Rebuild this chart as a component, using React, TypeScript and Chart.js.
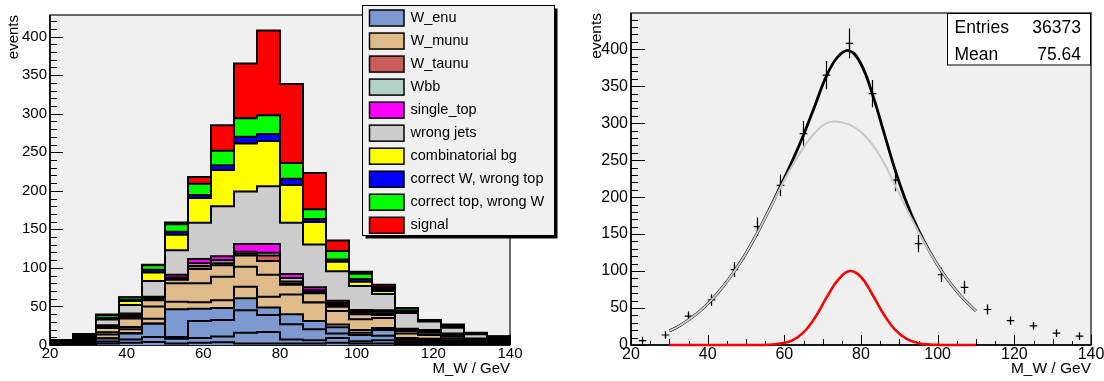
import React, { useEffect, useRef } from "react";
import { Chart, registerables } from "chart.js";

Chart.register(...registerables);

const FONT = "'Liberation Sans', Arial, Helvetica, sans-serif";
const PLOT_BG = "#f0f0f0";

// ---------- left panel: stacked M_W histogram (bin edges, 6 GeV bins) ----------
const binEdges = [20, 26, 32, 38, 44, 50, 56, 62, 68, 74, 80, 86, 92, 98, 104, 110, 116, 122, 128, 134, 140];

// W_enu sub-samples (bottom of stack)
const wEnuA = [0.5, 1, 2, 3, 4, 2, 3, 3.5, 2, 2, 2, 2, 3, 2, 2, 1, 1, 1, 0.8, 0.5];
const wEnuB = [0.5, 1.5, 2.5, 4, 6.5, 6, 6, 7.5, 14, 15, 5, 4, 6, 3, 4, 2, 2, 1, 0.7, 0.7];
const wEnuC = [0.5, 1, 4, 8, 17, 2.5, 22, 21.5, 29, 22, 20, 14.5, 6, 8, 6, 2, 2, 1, 1, 0.8];
const wEnuD = [0.5, 1, 0.3, 0.5, 0.5, 36, 16, 15.5, 15.5, 9.5, 13, 10.5, 8, 3, 7.5, 2, 1.5, 1.5, 1, 0.5];
// W_munu sub-samples
const wMunuA = [0.5, 1.5, 4.7, 5, 6, 9.5, 8.5, 10, 15, 14, 25.5, 24, 3.5, 3.5, 2.5, 2, 1.5, 1.5, 1, 1];
const wMunuB = [0.5, 1.5, 3, 3, 16, 24, 24.5, 30.5, 26, 28.5, 12.5, 0, 17.5, 14, 13, 6, 5, 2.5, 1, 1];
const wMunuC = [0.5, 1.5, 5.5, 11, 8, 4.5, 18.5, 15, 14.5, 18, 1.5, 12, 5.5, 6.5, 4, 3, 3, 2.5, 1, 1];
const wTaunu = [0.5, 1, 1.5, 2, 1.5, 2, 4, 2.5, 2.5, 7, 3, 2, 2.5, 2, 2, 1, 1, 1.5, 0.5, 0.7];
const wbb = [0.5, 1, 1, 2, 1.5, 1, 3.5, 4, 2.5, 3.5, 4.5, 2, 2.5, 1.5, 2, 1, 1, 1, 0.5, 0.8];
const singleTop = [0.5, 1, 1, 2.5, 1.5, 3.5, 5.5, 5, 10, 11.5, 5, 4, 3, 2, 2, 1, 1.5, 1.5, 1, 1];
const wrongJets = [0.8, 1.3, 7.5, 11, 20.5, 32, 47, 65, 68, 75, 66.5, 55.5, 38, 31, 21, 20.5, 11, 7.5, 5.5, 1.5];
const combinatorialBg = [0.2, 0.3, 0.5, 5, 11, 20, 32, 47, 62.5, 58.5, 49, 29, 12.5, 5.5, 4, 2, 0.5, 0.5, 0.5, 0.5];
const correctWWrongTop = [0.2, 0.3, 1.5, 1.5, 3.5, 4, 4, 6, 8.5, 9, 8, 4, 3, 3.5, 2.5, 1, 0.5, 0.5, 0.5, 0.5];
const correctTopWrongW = [0.2, 0.3, 3.5, 3, 6, 9.5, 14.5, 19, 24, 24.5, 20.5, 12.5, 11, 7, 2.5, 3, 0.5, 2.5, 0.5, 0.5];
const signal = [0.1, 0.2, 1, 0.5, 0.5, 2.5, 9, 33, 71, 110, 102.5, 47, 13.5, 2.5, 3, 0.5, 0.5, 0.5, 0.5, 0.5];

const C_WENU = "#7d99d1";
const C_WMUNU = "#debb88";
const C_WTAUNU = "#cd5c5c";
const C_WBB = "#b3d1c6";
const C_STOP = "#ff00ff";
const C_WJETS = "#cccccc";
const C_COMB = "#ffff00";
const C_CORRW = "#0000ff";
const C_CORRT = "#00ff00";
const C_SIG = "#ff0000";

const legendLabels = [
  "W_enu", "W_munu", "W_taunu", "Wbb", "single_top", "wrong jets",
  "combinatorial bg", "correct W, wrong top", "correct top, wrong W", "signal",
];
const legendColors = [C_WENU, C_WMUNU, C_WTAUNU, C_WBB, C_STOP, C_WJETS, C_COMB, C_CORRW, C_CORRT, C_SIG];

// tick labels
const xTickValues = [20, 40, 60, 80, 100, 120, 140];
const yTickValues = [0, 50, 100, 150, 200, 250, 300, 350, 400];

// ---------- right panel: data points and fit curves ----------
const pointX = [23, 29, 35, 41, 47, 53, 59, 65, 71, 77, 83, 89, 95, 101, 107, 113, 119, 125, 131, 137];
const pointY = [6, 13.5, 39, 61, 102, 160, 216, 286, 365, 408, 340, 223, 137, 95, 78, 48, 33, 26, 16, 12];
const pointErr = [2.4, 3.7, 6.2, 7.8, 10.1, 12.6, 14.7, 16.9, 19.1, 20.2, 18.4, 14.9, 11.7, 9.7, 8.8, 6.9, 5.7, 5.1, 4.0, 3.5];

const fitX = [30, 32, 35, 38, 41, 44, 47, 50, 53, 56, 59, 62, 65, 68, 71, 74, 77, 80, 83, 86, 89, 92, 95, 98, 101, 104, 107, 110];
const bgFit = [19, 24, 34, 46, 61, 79, 100, 124, 152, 182, 213, 242, 267, 287, 300, 302, 298, 288, 271, 246, 215, 183, 153, 125, 100, 79, 61, 46];
const sigFit = [0, 0, 0, 0, 0, 0, 0, 0, 0, 0.3, 2, 6, 17, 37, 64, 88, 100, 92, 68, 41, 20, 8, 2.5, 0.6, 0.1, 0, 0, 0];
const totalFit = [19, 24, 34, 46, 61, 79, 100, 124, 152, 182.3, 215, 248, 284, 324, 364, 390, 398, 380, 339, 287, 235, 191, 155.5, 125.6, 100.1, 79, 61, 46];

const statsLabels = ["Entries", "Mean"];
const statsValues = ["36373", "75.64"];

type TickCfg = { yMajor: number; yMinor: number; xMajor: number; xMid: number; xMinor: number };

function drawRootFrame(chart: any, cfg: TickCfg) {
  const { ctx, chartArea: a } = chart;
  const xs = chart.scales.x;
  const ys = chart.scales.y;
  ctx.save();
  ctx.fillStyle = PLOT_BG;
  ctx.fillRect(a.left, a.top, a.right - a.left, a.bottom - a.top);
  ctx.strokeStyle = "#3a3a3a";
  ctx.lineWidth = 1.5;
  ctx.strokeRect(a.left, a.top, a.right - a.left, a.bottom - a.top);
  ctx.strokeStyle = "#000";
  ctx.lineWidth = 1;
  ctx.beginPath();
  for (let v = ys.min; v <= ys.max; v += 10) {
    const py = Math.round(ys.getPixelForValue(v)) + 0.5;
    const len = v % 50 === 0 ? cfg.yMajor : cfg.yMinor;
    ctx.moveTo(a.left, py);
    ctx.lineTo(a.left + len, py);
  }
  for (let v = xs.min; v <= xs.max; v += 5) {
    const px = Math.round(xs.getPixelForValue(v)) + 0.5;
    const len = v % 20 === 0 ? cfg.xMajor : v % 10 === 0 ? cfg.xMid : cfg.xMinor;
    ctx.moveTo(px, a.bottom);
    ctx.lineTo(px, a.bottom - len);
  }
  ctx.stroke();
  ctx.lineWidth = 1.5;
  ctx.beginPath();
  ctx.moveTo(a.left, a.top);
  ctx.lineTo(a.left, a.bottom);
  ctx.lineTo(a.right, a.bottom);
  ctx.stroke();
  ctx.restore();
}

function axisOptions(opts: {
  ymax: number; yWidth: number; tickSize: number; titleSize: number; yTitlePad: number;
}) {
  const tickFont = { family: FONT, size: opts.tickSize };
  const titleFont = { family: FONT, size: opts.titleSize };
  return {
    x: {
      type: "linear",
      min: 20,
      max: 140,
      ticks: { font: tickFont, color: "#000", padding: 0, maxRotation: 0, autoSkip: false },
      afterBuildTicks: (s: any) => { s.ticks = xTickValues.map((value) => ({ value })); },
      grid: { display: false, drawTicks: false },
      border: { display: false },
      title: { display: true, text: "M_W / GeV", align: "end", color: "#000", font: titleFont, padding: { top: 0, bottom: 3 } },
      afterFit: (s: any) => { s.height = 36; s.paddingLeft = 0; s.paddingRight = 0; },
    },
    y: {
      type: "linear",
      min: 0,
      max: opts.ymax,
      ticks: { font: tickFont, color: "#000", padding: 3, autoSkip: false },
      afterBuildTicks: (s: any) => { s.ticks = yTickValues.map((value) => ({ value })); },
      grid: { display: false, drawTicks: false },
      border: { display: false },
      title: { display: true, text: "events", align: "end", color: "#000", font: titleFont, padding: { top: opts.yTitlePad, bottom: 0 } },
      afterFit: (s: any) => { s.width = opts.yWidth; s.paddingTop = 0; s.paddingBottom = 0; },
    },
  };
}

function leftConfig(): any {
  const stackOrder = [
    { v: wEnuA, c: C_WENU }, { v: wEnuB, c: C_WENU }, { v: wEnuC, c: C_WENU }, { v: wEnuD, c: C_WENU },
    { v: wMunuA, c: C_WMUNU }, { v: wMunuB, c: C_WMUNU }, { v: wMunuC, c: C_WMUNU },
    { v: wTaunu, c: C_WTAUNU }, { v: wbb, c: C_WBB }, { v: singleTop, c: C_STOP },
    { v: wrongJets, c: C_WJETS }, { v: combinatorialBg, c: C_COMB }, { v: correctWWrongTop, c: C_CORRW },
    { v: correctTopWrongW, c: C_CORRT }, { v: signal, c: C_SIG },
  ];
  let running = new Array(binEdges.length - 1).fill(0);
  const datasets = stackOrder.map((layer) => {
    running = running.map((r, i) => r + layer.v[i]);
    const cum = running.slice();
    const pts = cum.map((y, i) => ({ x: binEdges[i], y }));
    pts.push({ x: binEdges[binEdges.length - 1], y: cum[cum.length - 1] });
    return {
      data: pts,
      stepped: "before",
      fill: "origin",
      backgroundColor: layer.c,
      borderColor: "#000",
      borderWidth: 2,
      borderJoinStyle: "miter",
      pointRadius: 0,
      tension: 0,
    };
  });

  const framePlugin = {
    id: "rootFrameLeft",
    beforeDatasetsDraw(chart: any) {
      drawRootFrame(chart, { yMajor: 13, yMinor: 7, xMajor: 10, xMid: 6, xMinor: 4 });
    },
  };
  const legendPlugin = {
    id: "rootLegend",
    afterDraw(chart: any) {
      const ctx = chart.ctx;
      const bx = 362.5, by = 5.5, bw = 192, bh = 230;
      ctx.save();
      ctx.fillStyle = "#000";
      ctx.fillRect(bx + 3, by + 3, bw, bh);
      ctx.fillStyle = PLOT_BG;
      ctx.fillRect(bx, by, bw, bh);
      ctx.strokeStyle = "#000";
      ctx.lineWidth = 1;
      ctx.strokeRect(bx, by, bw, bh);
      ctx.font = `14.5px ${FONT}`;
      ctx.textBaseline = "alphabetic";
      ctx.textAlign = "left";
      legendLabels.forEach((label, i) => {
        const cy = 18 + i * 23.03;
        ctx.fillStyle = legendColors[i];
        ctx.fillRect(369.5, cy - 8, 34.5, 16);
        ctx.lineWidth = 1.5;
        ctx.strokeStyle = "#000";
        ctx.strokeRect(369.5, cy - 8, 34.5, 16);
        ctx.fillStyle = "#000";
        ctx.fillText(label, 410.5, cy + 4);
      });
      ctx.restore();
    },
  };

  return {
    type: "line",
    data: { datasets },
    options: {
      animation: false,
      responsive: false,
      devicePixelRatio: 1,
      events: [],
      layout: { padding: { left: 0, right: 50, top: 15, bottom: 0 } },
      plugins: { legend: { display: false }, tooltip: { enabled: false } },
      scales: axisOptions({ ymax: 428, yWidth: 50, tickSize: 15, titleSize: 15, yTitlePad: 5 }),
    },
    plugins: [framePlugin, legendPlugin],
  };
}

function rightConfig(): any {
  const curve = (ys: number[]) => fitX.map((x, i) => ({ x, y: ys[i] }));
  const datasets = [
    { data: curve(sigFit), borderColor: "#ff0000", borderWidth: 2.6, pointRadius: 0, tension: 0.4, fill: false, clip: 4 },
    { data: curve(bgFit), borderColor: "#c8c8c8", borderWidth: 2, pointRadius: 0, tension: 0.4, fill: false },
    { data: curve(totalFit), borderColor: "#000000", borderWidth: 2.8, pointRadius: 0, tension: 0.4, fill: false },
    {
      data: pointX.map((x, i) => ({ x, y: pointY[i] })),
      showLine: false,
      pointStyle: "cross",
      pointRadius: 3.8,
      pointBorderWidth: 1.2,
      borderColor: "#000",
      backgroundColor: "#000",
    },
  ];

  const framePlugin = {
    id: "rootFrameRight",
    beforeDatasetsDraw(chart: any) {
      drawRootFrame(chart, { yMajor: 14, yMinor: 7, xMajor: 10, xMid: 6, xMinor: 4 });
      const { ctx, chartArea: a } = chart;
      const xs = chart.scales.x;
      const ys = chart.scales.y;
      ctx.save();
      ctx.beginPath();
      ctx.rect(a.left, a.top, a.right - a.left, a.bottom - a.top);
      ctx.clip();
      ctx.strokeStyle = "#000";
      ctx.lineWidth = 1.2;
      ctx.beginPath();
      pointX.forEach((x, i) => {
        const px = xs.getPixelForValue(x);
        ctx.moveTo(px, ys.getPixelForValue(pointY[i] - pointErr[i]));
        ctx.lineTo(px, ys.getPixelForValue(pointY[i] + pointErr[i]));
      });
      ctx.stroke();
      ctx.restore();
    },
  };
  const statsPlugin = {
    id: "rootStats",
    afterDraw(chart: any) {
      const ctx = chart.ctx;
      const a = chart.chartArea;
      const bw = 144, bh = 51.5;
      const bx = a.right - bw, by = a.top;
      ctx.save();
      ctx.fillStyle = "#ffffff";
      ctx.fillRect(bx, by, bw, bh);
      ctx.strokeStyle = "#000";
      ctx.lineWidth = 1;
      ctx.strokeRect(bx + 0.5, by + 0.5, bw - 1, bh);
      ctx.fillStyle = "#000";
      ctx.font = `17.5px ${FONT}`;
      ctx.textBaseline = "alphabetic";
      statsLabels.forEach((label, i) => {
        const base = by + 19.5 + i * 27.5;
        ctx.textAlign = "left";
        ctx.fillText(label, bx + 7.5, base);
        ctx.textAlign = "right";
        ctx.fillText(statsValues[i], bx + bw - 10, base);
      });
      ctx.restore();
    },
  };

  return {
    type: "line",
    data: { datasets },
    options: {
      animation: false,
      responsive: false,
      devicePixelRatio: 1,
      events: [],
      layout: { padding: { left: 0, right: 13, top: 13, bottom: 0 } },
      plugins: { legend: { display: false }, tooltip: { enabled: false } },
      scales: axisOptions({ ymax: 449, yWidth: 71, tickSize: 16, titleSize: 15.5, yTitlePad: 27 }),
    },
    plugins: [framePlugin, statsPlugin],
  };
}

export default function App() {
  const leftRef = useRef<HTMLCanvasElement>(null);
  const rightRef = useRef<HTMLCanvasElement>(null);

  useEffect(() => {
    const c1 = new Chart(leftRef.current as HTMLCanvasElement, leftConfig());
    const c2 = new Chart(rightRef.current as HTMLCanvasElement, rightConfig());
    return () => {
      c1.destroy();
      c2.destroy();
    };
  }, []);

  return (
    <div style={{ position: "fixed", left: 0, top: 0, width: 1104, height: 381, background: "#ffffff", overflow: "hidden" }}>
      <canvas ref={leftRef} width={560} height={381} style={{ position: "absolute", left: 0, top: 0 }} />
      <canvas ref={rightRef} width={544} height={381} style={{ position: "absolute", left: 560, top: 0 }} />
    </div>
  );
}
